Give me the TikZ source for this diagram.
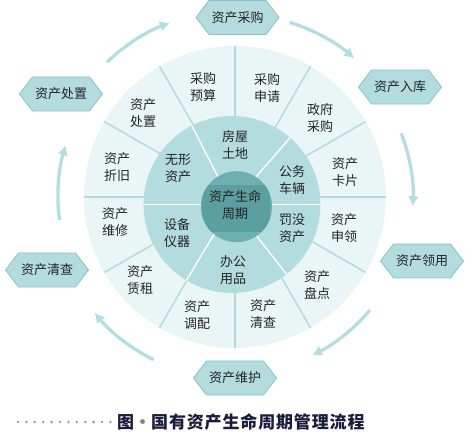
\documentclass[tikz,border=0pt]{standalone}
\usepackage{fontspec}
\usepackage{xcolor}
\usepackage{tikz}
\usetikzlibrary{shapes.symbols, arrows.meta, calc}
\newfontfamily\cjk{Noto Sans CJK SC}
\newfontfamily\cjkcap[LetterSpace=5]{Noto Sans CJK SC}
\definecolor{ringlight}{RGB}{234,245,246}
\definecolor{ringmid}{RGB}{179,220,223}
\definecolor{ringcore}{RGB}{108,176,177}
\definecolor{coredark}{RGB}{92,159,161}
\definecolor{spokeline}{RGB}{178,218,221}
\definecolor{hexfill}{RGB}{179,220,223}
\definecolor{hexdraw}{RGB}{140,192,196}
\definecolor{flowline}{RGB}{180,222,225}
\definecolor{txtdark}{RGB}{35,35,35}
\definecolor{capblue}{RGB}{28,28,60}
\tikzset{
  seg/.style={align=center, font=\cjk\fontsize{13}{17}\selectfont, text=txtdark, inner sep=0pt},
  stage/.style={signal, signal to=east and west, signal pointer angle=105, draw=hexdraw, fill=hexfill, line width=0.8pt, minimum width=83pt, minimum height=34pt, inner sep=0pt, font=\cjk\fontsize{13}{16}\selectfont, text=txtdark},
  flow/.style={draw=flowline, line width=3.3pt, -{Latex[length=10pt,width=11pt]}}
}

\begin{document}
\begin{tikzpicture}[x=1pt, y=1pt]
  \useasboundingbox (0,0) rectangle (465,441);
  \coordinate (oc) at (235,244);
  \coordinate (mc) at (232,236.5);
  \coordinate (ic) at (236.5,234.3);

  % outer ring
  \fill[ringlight] (oc) circle[radius=151];
  \foreach \a in {0,30,...,330}
    \draw[spokeline, line width=1.4pt] (oc) -- ++(\a:151);

  % middle ring
  \fill[ringmid] (mc) circle[radius=88.5];
  \foreach \a in {0,49,117,180,239,308}
    \draw[white, line width=1.4pt] (mc) -- ++(\a:88.5);

  % core
  \fill[ringcore] (ic) circle[radius=35.5];
  \begin{scope}
    \clip (ic) circle[radius=35.5];
    \fill[coredark] ($(ic)+(-34.5,-25.3)$) rectangle ++(68,47);
  \end{scope}
  \node[seg] (core) at (235,236) {资产生命\\周期};

  % middle ring labels
  \node[seg] (land) at (235,296) {房屋\\土地};
  \node[seg] (car) at (292,261) {公务\\车辆};
  \node[seg] (fine) at (292,213) {罚没\\资产};
  \node[seg] (office) at (233,171) {办公\\用品};
  \node[seg] (equip) at (177,208) {设备\\仪器};
  \node[seg] (intang) at (178,273) {无形\\资产};

  % outer ring labels
  \node[seg] (budget) at (203,354) {采购\\预算};
  \node[seg] (apply) at (267,353) {采购\\申请};
  \node[seg] (gov) at (320,323) {政府\\采购};
  \node[seg] (card) at (345,269) {资产\\卡片};
  \node[seg] (claim) at (344,213) {资产\\申领};
  \node[seg] (count) at (317,156) {资产\\盘点};
  \node[seg] (audit) at (263,127) {资产\\清查};
  \node[seg] (alloc) at (197,126) {资产\\调配};
  \node[seg] (lease) at (140,161) {资产\\赁租};
  \node[seg] (repair) at (115,219) {资产\\维修};
  \node[seg] (deprec) at (117,274) {资产\\折旧};
  \node[seg] (dispo) at (143,328) {资产\\处置};

  % stages around
  \node[stage] (buy) at (237.5,423.5) {资产采购};
  \node[stage] (store) at (400,354) {资产入库};
  \node[stage] (use) at (422,180) {资产领用};
  \node[stage] (keep) at (235,63) {资产维护};
  \node[stage] (check) at (47,171) {资产清查};
  \node[stage] (dispose) at (61,347) {资产处置};

  % flow arrows
  \foreach \s/\e/\r [count=\i] in {133.5/110.5/186, 72.6/49.3/183, 21/-3/178, -40/-64/176, 243.4/219.5/182, 187.5/163/177} {
    \coordinate (f\i) at ($(oc)+(\s:\r)$);
    \draw[flow] (f\i) arc[start angle=\s, end angle=\e, radius=\r];
  }

  % caption
  \foreach \i in {0,...,11}
    \fill[gray!80] (18+8.4*\i,19) circle[radius=1.4];
  \node[font=\cjkcap\bfseries\fontsize{17}{17}\selectfont, text=capblue, anchor=west, inner sep=0pt] (cap) at (117,19) {图\textcolor{gray}{·}国有资产生命周期管理流程};
\end{tikzpicture}
\end{document}
